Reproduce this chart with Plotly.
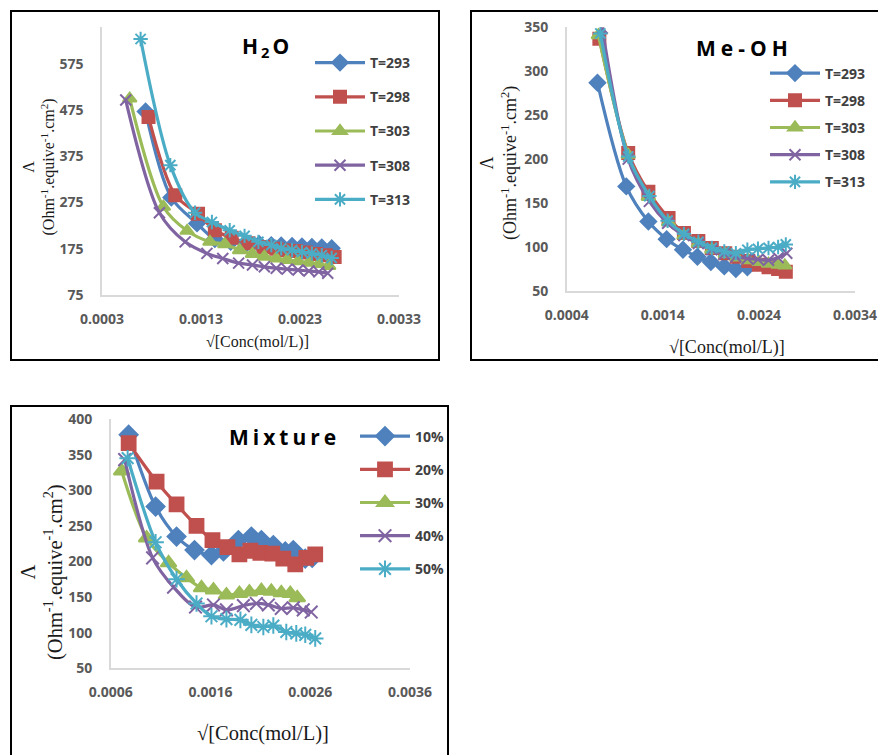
import plotly.graph_objects as go

VW, VH = 886, 755          # browser viewport
OFF = 8                    # default page body margin
W, H = VW - OFF, VH - OFF  # figure size so it fits the viewport

# ---------------- H2O panel data ----------------
h2o_names = ["T=293", "T=298", "T=303", "T=308", "T=313"]
h2o_x_293 = [0.00074, 0.00100, 0.00126, 0.00144, 0.00160, 0.00176, 0.00189, 0.00201, 0.00211, 0.00222, 0.00232, 0.00242, 0.00252, 0.00262]
h2o_y_293 = [472, 286, 230, 196, 190, 187, 185, 183, 182, 181, 180, 179, 178, 176]
h2o_x_298 = [0.00077, 0.00104, 0.00127, 0.00144, 0.00161, 0.00178, 0.00193, 0.00206, 0.00216, 0.00226, 0.00236, 0.00246, 0.00256, 0.00265]
h2o_y_298 = [460, 291, 251, 215, 199, 187, 179, 175, 172, 170, 167, 164, 161, 157]
h2o_x_303 = [0.00058, 0.00092, 0.00116, 0.00139, 0.00154, 0.00169, 0.00182, 0.00194, 0.00206, 0.00217, 0.00228, 0.00239, 0.00249, 0.00259]
h2o_y_303 = [500, 266, 214, 190, 185, 172, 164, 158, 154, 151, 148, 145, 142, 138]
h2o_x_308 = [0.00054, 0.00088, 0.00114, 0.00136, 0.00152, 0.00168, 0.00182, 0.00194, 0.00206, 0.00217, 0.00228, 0.00239, 0.00249, 0.00258]
h2o_y_308 = [497, 253, 190, 165, 154, 144, 140, 136, 133, 131, 129, 127, 125, 122]
h2o_x_313 = [0.00069, 0.00099, 0.00124, 0.00141, 0.00159, 0.00174, 0.00188, 0.00201, 0.00211, 0.00222, 0.00232, 0.00242, 0.00252, 0.00262]
h2o_y_313 = [629, 356, 253, 233, 215, 203, 190, 183, 176, 172, 168, 165, 161, 155]

# ---------------- Me-OH panel data ----------------
meoh_names = ["T=293", "T=298", "T=303", "T=308", "T=313"]
meoh_x_293 = [0.00072, 0.00102, 0.00125, 0.00144, 0.00161, 0.00176, 0.00190, 0.00204, 0.00216, 0.00228]
meoh_y_293 = [287, 169, 129, 109, 97, 89, 83, 78, 75, 77]
meoh_x_298 = [0.00074, 0.00104, 0.00125, 0.00146, 0.00162, 0.00177, 0.00191, 0.00205, 0.00217, 0.00229, 0.00240, 0.00250, 0.00260, 0.00268]
meoh_y_298 = [337, 207, 163, 133, 116, 107, 99, 93, 89, 84, 80, 77, 75, 72]
meoh_x_303 = [0.00073, 0.00104, 0.00125, 0.00146, 0.00162, 0.00177, 0.00191, 0.00205, 0.00217, 0.00229, 0.00240, 0.00250, 0.00260, 0.00267]
meoh_y_303 = [341, 205, 157, 128, 113, 104, 97, 92, 88, 85, 83, 81, 80, 79]
meoh_x_308 = [0.00077, 0.00104, 0.00126, 0.00145, 0.00162, 0.00177, 0.00191, 0.00204, 0.00216, 0.00228, 0.00239, 0.00250, 0.00260, 0.00269]
meoh_y_308 = [349, 200, 152, 127, 113, 104, 97, 92, 89, 87, 86, 85, 88, 93]
meoh_x_313 = [0.00075, 0.00104, 0.00126, 0.00145, 0.00162, 0.00177, 0.00191, 0.00204, 0.00216, 0.00228, 0.00239, 0.00250, 0.00260, 0.00268]
meoh_y_313 = [343, 203, 158, 130, 115, 106, 99, 95, 93, 97, 98, 99, 100, 103]

# ---------------- Mixture panel data ----------------
mix_names = ["10%", "20%", "30%", "40%", "50%"]
mix_x_10 = [0.00078, 0.00105, 0.00126, 0.00144, 0.00161, 0.00173, 0.00188, 0.00201, 0.00211, 0.00223, 0.00235, 0.00243, 0.00255, 0.00262]
mix_y_10 = [378, 277, 235, 216, 209, 214, 230, 235, 230, 223, 214, 216, 204, 205]
mix_x_20 = [0.00078, 0.00106, 0.00126, 0.00146, 0.00162, 0.00177, 0.00189, 0.00200, 0.00210, 0.00222, 0.00233, 0.00245, 0.00256, 0.00265]
mix_y_20 = [366, 312, 280, 250, 230, 220, 210, 215, 212, 211, 204, 196, 205, 210]
mix_x_30 = [0.00071, 0.00096, 0.00118, 0.00136, 0.00151, 0.00163, 0.00176, 0.00189, 0.00199, 0.00211, 0.00221, 0.00231, 0.00240, 0.00247]
mix_y_30 = [327, 233, 198, 177, 163, 160, 153, 155, 157, 159, 158, 156, 155, 149]
mix_x_40 = [0.00074, 0.00102, 0.00123, 0.00145, 0.00163, 0.00176, 0.00193, 0.00206, 0.00218, 0.00231, 0.00243, 0.00253, 0.00261]
mix_y_40 = [343, 205, 164, 136, 139, 132, 138, 141, 139, 134, 135, 132, 129]
mix_x_50 = [0.00077, 0.00105, 0.00126, 0.00146, 0.00161, 0.00176, 0.00190, 0.00201, 0.00213, 0.00223, 0.00236, 0.00246, 0.00255, 0.00265]
mix_y_50 = [345, 227, 175, 141, 123, 119, 118, 111, 108, 110, 101, 99, 97, 92]

# tick labels
h2o_xticks = [0.0003, 0.0013, 0.0023, 0.0033]
h2o_yticks = [75, 175, 275, 375, 475, 575]
meoh_xticks = [0.0004, 0.0014, 0.0024, 0.0034]
meoh_yticks = [50, 100, 150, 200, 250, 300, 350]
mix_xticks = [0.0006, 0.0016, 0.0026, 0.0036]
mix_yticks = [50, 100, 150, 200, 250, 300, 350, 400]

x_title = "√[Conc(mol/L)]"
y_title = "Λ<br>(Ohm<sup>-1</sup>.equive<sup>-1</sup>.cm<sup>2</sup>)"

colors = ["#4F81BD", "#C0504D", "#9BBB59", "#8064A2", "#4BACC6"]
symbols = ["diamond", "square", "triangle-up", "x-thin-open", "asterisk-open"]
msizes = [12, 12, 12, 11, 12]


def px(p):
    """viewport pixel x -> paper fraction"""
    return (p - OFF) / W


def py(p):
    """viewport pixel y -> paper fraction"""
    return 1 - (p - OFF) / H


fig = go.Figure()

panels = [
    ("x", "y", "legend", h2o_names,
     [(h2o_x_293, h2o_y_293), (h2o_x_298, h2o_y_298), (h2o_x_303, h2o_y_303),
      (h2o_x_308, h2o_y_308), (h2o_x_313, h2o_y_313)], 1.0),
    ("x2", "y2", "legend2", meoh_names,
     [(meoh_x_293, meoh_y_293), (meoh_x_298, meoh_y_298), (meoh_x_303, meoh_y_303),
      (meoh_x_308, meoh_y_308), (meoh_x_313, meoh_y_313)], 1.0),
    ("x3", "y3", "legend3", mix_names,
     [(mix_x_10, mix_y_10), (mix_x_20, mix_y_20), (mix_x_30, mix_y_30),
      (mix_x_40, mix_y_40), (mix_x_50, mix_y_50)], 1.15),
]

for pi, (xa, ya, lg, names, series, msc) in enumerate(panels):
    for i, (xs, ys) in enumerate(series):
        fig.add_trace(go.Scatter(
            x=xs, y=ys, xaxis=xa, yaxis=ya, name=names[i],
            legend=lg, legendgroup=f"p{pi}s{i}",
            mode="lines+markers",
            line=dict(color=colors[i], width=3.2, shape="spline", smoothing=0.9),
            marker=dict(symbol=symbols[i], size=msizes[i] * msc, color=colors[i],
                        line=dict(color=colors[i], width=2)),
        ))

tickfont = dict(family="Open Sans", size=14, color="#595959", weight="bold")
ax_common = dict(showline=True, linecolor="#D9D9D9", linewidth=1.5, showgrid=False,
                 zeroline=False, ticks="", tickfont=tickfont, fixedrange=True)

legfont = dict(family="Open Sans", size=14, color="#404040", weight="bold")
leg_common = dict(xanchor="left", yanchor="top", bgcolor="rgba(0,0,0,0)",
                  font=legfont, traceorder="grouped", itemwidth=50)

fig.update_layout(
    width=W, height=H,
    margin=dict(l=0, r=0, t=0, b=0, autoexpand=False),
    paper_bgcolor="white", plot_bgcolor="white",
    showlegend=True,
    xaxis=dict(ax_common, domain=[px(102), px(399)], anchor="y", range=[0.0003, 0.0033],
               tickvals=h2o_xticks, ticktext=[f"{v:.4f}" for v in h2o_xticks], ticklabelstandoff=10),
    yaxis=dict(ax_common, domain=[py(295), py(27)], anchor="x", range=[75, 655],
               tickvals=h2o_yticks, ticklabelstandoff=14),
    xaxis2=dict(ax_common, domain=[px(566.7), px(855)], anchor="y2", range=[0.0004, 0.0034],
                tickvals=meoh_xticks, ticktext=[f"{v:.4f}" for v in meoh_xticks], ticklabelstandoff=10),
    yaxis2=dict(ax_common, domain=[py(291), py(27.3)], anchor="x2", range=[50, 350],
                tickvals=meoh_yticks, ticklabelstandoff=14),
    xaxis3=dict(ax_common, domain=[px(110.7), px(410)], anchor="y3", range=[0.0006, 0.0036],
                tickvals=mix_xticks, ticktext=[f"{v:.4f}" for v in mix_xticks], ticklabelstandoff=10),
    yaxis3=dict(ax_common, domain=[py(668.3), py(419)], anchor="x3", range=[50, 400],
                tickvals=mix_yticks, ticklabelstandoff=14),
    legend=dict(leg_common, x=px(310), y=py(47), tracegroupgap=13),
    legend2=dict(leg_common, x=px(765), y=py(57.5), tracegroupgap=6),
    legend3=dict(leg_common, x=px(355), y=py(420.5), tracegroupgap=12),
)

# panel borders
for (x0, y0, x1, y1) in [(11, 11, 439, 360), (471, 11, 900, 360), (11, 406, 448, 770)]:
    fig.add_shape(type="rect", xref="paper", yref="paper",
                  x0=px(x0), x1=px(x1), y0=py(y1), y1=py(y0),
                  line=dict(color="black", width=2), fillcolor="rgba(0,0,0,0)")

title_font = dict(family="Open Sans", size=21, color="black", weight="bold")
ann = [
    dict(text='<span style="letter-spacing:3px">H<sub>2</sub>O</span>', x=px(267), y=py(47)),
    dict(text='<span style="letter-spacing:5px">Me-OH</span>', x=px(744), y=py(48)),
    dict(text='<span style="letter-spacing:4px">Mixture</span>', x=px(284), y=py(437)),
]
for a in ann:
    fig.add_annotation(xref="paper", yref="paper", showarrow=False, font=title_font,
                       xanchor="center", yanchor="middle", **a)

serif = "Liberation Serif"
for (cx, cy, sz) in [(257, 342, 16), (727, 347, 18), (263, 733, 20.5)]:
    fig.add_annotation(xref="paper", yref="paper", showarrow=False, text=x_title,
                       x=px(cx), y=py(cy), xanchor="center", yanchor="middle",
                       font=dict(family=serif, size=sz, color="#1a1a1a"))
for (cx, cy, sz) in [(38.5, 167, 16), (499, 163, 18), (42, 572, 20.5)]:
    fig.add_annotation(xref="paper", yref="paper", showarrow=False, text=y_title,
                       x=px(cx), y=py(cy), xanchor="center", yanchor="middle", textangle=-90,
                       font=dict(family=serif, size=sz, color="#1a1a1a"))

fig.write_html("out.html")
